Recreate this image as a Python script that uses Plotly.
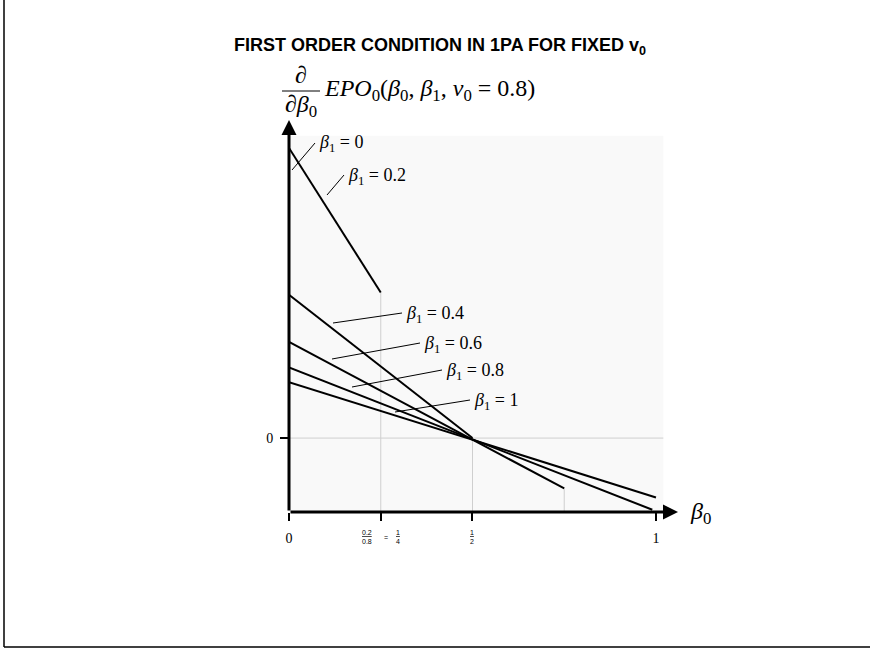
import plotly.graph_objects as go

# values (beta_0 on x, derivative on y)
beta1_labels = ["0", "0.2", "0.4", "0.6", "0.8", "1"]
b0_02 = [0, 0.25]
d_02 = [2.59, 1.30]
b0_04 = [0, 0.5]
d_04 = [1.28, 0]
b0_06 = [0, 0.75]
d_06 = [0.86, -0.45]
b0_08 = [0, 0.99]
d_08 = [0.63, -0.64]
b0_10 = [0, 1.0]
d_10 = [0.50, -0.53]

x_tickvals = [0, 0.25, 0.5, 1]
x_ticktext = ["0", "", "", "1"]

X_MIN, X_MAX = 0, 1.06
Y_MIN, Y_MAX = -0.66, 2.84

SERIF = "Liberation Serif, Times New Roman, serif"
SANS = "Liberation Sans, Arial, sans-serif"

# plot area in pixels
L, R, T, B = 289, 678, 120, 512
W, H = 870, 657


def px_x(px):
    return (px - L) / (R - L)


def px_y(py):
    return (B - py) / (B - T)


def text_at(x, y, text, font, xanchor="center"):
    fig.add_annotation(x=px_x(x), y=px_y(y), xref="paper", yref="paper",
                       text=text, showarrow=False, font=font,
                       xanchor=xanchor, yanchor="middle")


fig = go.Figure()

series = [(b0_02, d_02), (b0_04, d_04), (b0_06, d_06), (b0_08, d_08), (b0_10, d_10)]
for xs, ys in series:
    fig.add_trace(go.Scatter(x=xs, y=ys, mode="lines",
                             line=dict(color="black", width=2),
                             showlegend=False, hoverinfo="skip"))

grid = dict(color="#cfcfcf", width=1)
# faint plot background
fig.add_shape(type="rect", x0=0, x1=1.02, y0=Y_MIN, y1=2.7,
              fillcolor="#f9f9f9", line=dict(width=0), layer="below")
# zero line and drop lines from the end points
fig.add_shape(type="line", x0=0, x1=1.02, y0=0, y1=0, line=grid, layer="below")
fig.add_shape(type="line", x0=b0_02[-1], x1=b0_02[-1], y0=d_02[-1], y1=Y_MIN,
              line=grid, layer="below")
fig.add_shape(type="line", x0=b0_04[-1], x1=b0_04[-1], y0=d_04[-1], y1=Y_MIN,
              line=grid, layer="below")
fig.add_shape(type="line", x0=b0_06[-1], x1=b0_06[-1], y0=d_06[-1], y1=Y_MIN,
              line=grid, layer="below")

# axes with arrow heads
fig.add_annotation(x=0, y=Y_MAX, ax=0, ay=Y_MIN, xref="x", yref="y",
                   axref="x", ayref="y", text="", showarrow=True,
                   arrowhead=2, arrowwidth=3, arrowsize=1, arrowcolor="black")
fig.add_annotation(x=X_MAX, y=Y_MIN, ax=0, ay=Y_MIN, xref="x", yref="y",
                   axref="x", ayref="y", text="", showarrow=True,
                   arrowhead=2, arrowwidth=3, arrowsize=1, arrowcolor="black")

# leader lines and labels for each beta_1 (pixel positions)
lab_font = dict(family=SERIF, size=18, color="black")
leaders = [((292, 170), (315, 143)), ((327, 195), (344, 175)),
           ((333, 323), (402, 313)), ((332, 359), (420, 343)),
           ((352, 387), (442, 370)), ((395, 412), (470, 400))]
for lab, (p0, p1) in zip(beta1_labels, leaders):
    fig.add_shape(type="line", xref="paper", yref="paper",
                  x0=px_x(p0[0]), y0=px_y(p0[1]), x1=px_x(p1[0]), y1=px_y(p1[1]),
                  line=dict(color="black", width=1))
    text_at(p1[0] + 2, p1[1] + 1, "<i>β</i><sub>1</sub> = " + lab, lab_font,
            xanchor="left")

# small fraction tick labels
frac_font = dict(family=SANS, size=7, color="black")
text_at(367, 537, "<u>0.2</u><br>0.8", frac_font)
text_at(386, 537, "=", frac_font)
text_at(398, 537, "<u>1</u><br>4", frac_font)
text_at(472, 537, "<u>1</u><br>2", frac_font)

# x axis name
text_at(700, 513, "<i>β</i><sub>0</sub>", dict(family=SERIF, size=24, color="black"))

# y axis name: d/d beta_0 EPO_0(...)
form_font = dict(family=SERIF, size=24, color="black")
text_at(301, 75, "∂", form_font)
text_at(301, 106, "∂<i>β</i><sub>0</sub>", form_font)
fig.add_shape(type="line", xref="paper", yref="paper",
              x0=px_x(282), x1=px_x(320), y0=px_y(91), y1=px_y(91),
              line=dict(color="black", width=1))
text_at(322, 90, "<i>EPO</i><sub>0</sub>(<i>β</i><sub>0</sub>, <i>β</i><sub>1</sub>, "
                 "<i>v</i><sub>0</sub> = 0.8)", form_font, xanchor="left")

# outer frame (left and bottom edges visible)
fig.add_shape(type="line", xref="paper", yref="paper",
              x0=px_x(4), x1=px_x(4), y0=px_y(-2), y1=px_y(647),
              line=dict(color="black", width=1.5))
fig.add_shape(type="line", xref="paper", yref="paper",
              x0=px_x(4), x1=px_x(W + 2), y0=px_y(647), y1=px_y(647),
              line=dict(color="black", width=1.5))

fig.update_layout(
    width=W, height=H,
    margin=dict(l=L, r=W - R, t=T, b=H - B),
    paper_bgcolor="white", plot_bgcolor="white",
    title=dict(text="<b>FIRST ORDER CONDITION IN 1PA FOR FIXED v<sub>0</sub></b>",
               x=440 / W, xref="container", xanchor="center",
               y=1 - 45 / H, yref="container", yanchor="middle",
               font=dict(family=SANS, size=18, color="black")),
    xaxis=dict(range=[X_MIN, X_MAX], showgrid=False, zeroline=False, showline=False,
               tickvals=x_tickvals, ticktext=x_ticktext, ticks="outside",
               ticklen=8, tickwidth=2, tickcolor="black", ticklabelstandoff=5,
               tickfont=dict(family=SERIF, size=14, color="black")),
    yaxis=dict(range=[Y_MIN, Y_MAX], showgrid=False, zeroline=False, showline=False,
               tickvals=[0], ticktext=["0"], ticks="outside",
               ticklen=8, tickwidth=2, tickcolor="black", ticklabelstandoff=4,
               tickfont=dict(family=SERIF, size=14, color="black")),
)

fig.write_html("out.html", config={"displayModeBar": False},
               post_script="document.body.style.margin = '0';")
